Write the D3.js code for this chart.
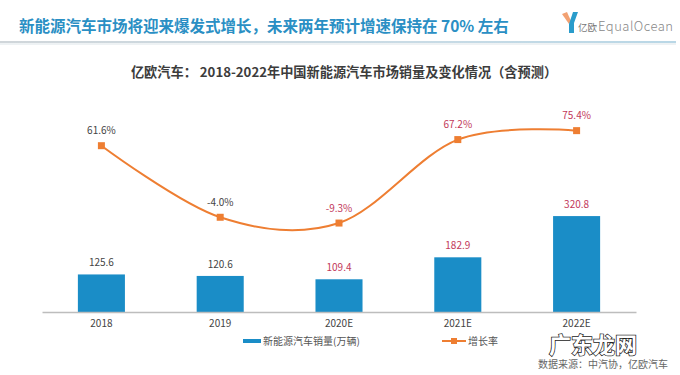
<!DOCTYPE html>
<html>
<head>
<meta charset="utf-8">
<script src="https://cdn.jsdelivr.net/npm/d3@7"></script>
<style>
  body { margin: 0; background: #fff; }
  svg text { font-family: "Noto Sans CJK SC", "Noto Sans", sans-serif; }
</style>
</head>
<body>
<div id="chart"></div>
<script>
'use strict';

// Data
const years = ['2018', '2019', '2020E', '2021E', '2022E'];
const sales = [125.6, 120.6, 109.4, 182.9, 320.8];
const growth = [61.6, -4.0, -9.3, 67.2, 75.4];
const forecast = [false, false, true, true, true];

const headerText = '新能源汽车市场将迎来爆发式增长，未来两年预计增速保持在 70% 左右';
const titleText = '亿欧汽车： 2018-2022年中国新能源汽车市场销量及变化情况（含预测）';
const salesName = '新能源汽车销量(万辆)';
const growthName = '增长率';
const sourceText = '数据来源：中汽协，亿欧汽车';

// Config
const w = 680, h = 375;
const blue = '#1a8dc7';
const orange = '#ee7e32';
const red = '#c2385a';
const dark = '#444';

const svg = d3.select('#chart')
    .append('svg')
    .attr('width', w)
    .attr('height', h);

// Header
const defs = svg.append('defs');
const grad = defs.append('linearGradient').attr('id', 'hdrLine');
grad.append('stop').attr('offset', '0%').attr('stop-color', '#d0d6da');
grad.append('stop').attr('offset', '60%').attr('stop-color', '#c9dbe5');
grad.append('stop').attr('offset', '100%').attr('stop-color', '#b9d7e6');

svg.append('rect')
    .attr('x', 0).attr('y', 41)
    .attr('width', 676).attr('height', 2)
    .attr('fill', 'url(#hdrLine)');
svg.append('rect')
    .attr('x', 0).attr('y', 43)
    .attr('width', 676).attr('height', 2)
    .attr('fill', '#eef2f4');

svg.append('text')
    .attr('x', 19).attr('y', 32)
    .attr('font-size', 15.5)
    .attr('font-weight', 'bold')
    .attr('fill', '#2a8fc4')
    .text(headerText);

// Logo
const logo = svg.append('g').attr('transform', 'translate(562,12)');
logo.append('path')
    .attr('d', 'M0,2 L5,0 L9,9 L7,12 Z')
    .attr('fill', '#f2a172');
logo.append('path')
    .attr('d', 'M16,0 L11,0 L7,12 L7,21 L12,21 L12,11 Z')
    .attr('fill', '#2a9ccb');
svg.append('text')
    .attr('x', 578).attr('y', 31)
    .attr('font-size', 9.5)
    .attr('fill', '#777')
    .text('亿欧');
svg.append('text')
    .attr('x', 598).attr('y', 31)
    .attr('font-size', 13)
    .attr('font-weight', 300)
    .attr('font-family', 'Lato, sans-serif')
    .attr('fill', '#888')
    .attr('textLength', 75)
    .text('EqualOcean');

// Chart title
svg.append('text')
    .attr('x', 344).attr('y', 77)
    .attr('text-anchor', 'middle')
    .attr('font-size', 13.2)
    .attr('font-weight', 'bold')
    .attr('fill', '#3c3c3c')
    .text(titleText);

// Scales
const xScale = d3.scaleBand()
    .domain(years)
    .range([42, 636])
    .paddingInner(0.604)
    .paddingOuter(0.302);

const yBar = d3.scaleLinear()
    .domain([0, 350])
    .range([312, 312 - 0.299 * 350]);

const yLine = d3.scaleLinear()
    .domain([-20, 80])
    .range([212.9 + 20 * 1.091, 212.9 - 80 * 1.091]);

const cx = d => xScale(d) + xScale.bandwidth() / 2;

// Bars
const barG = svg.append('g').attr('class', 'barG');
barG.selectAll('rect')
    .data(years)
    .join('rect')
    .attr('x', d => xScale(d))
    .attr('y', (d, i) => yBar(sales[i]))
    .attr('width', xScale.bandwidth())
    .attr('height', (d, i) => yBar(0) - yBar(sales[i]))
    .attr('fill', blue);

barG.selectAll('text')
    .data(years)
    .join('text')
    .attr('x', d => cx(d))
    .attr('y', (d, i) => yBar(sales[i]) - 8)
    .attr('text-anchor', 'middle')
    .attr('font-size', 10)
    .attr('fill', (d, i) => forecast[i] ? red : dark)
    .text((d, i) => sales[i].toFixed(1));

// X axis
const xAxis = svg.append('g')
    .attr('transform', `translate(0,${yBar(0)})`)
    .call(d3.axisBottom(xScale).tickSize(0).tickPadding(8));
xAxis.select('.domain')
    .attr('stroke', '#bdbdbd')
    .attr('stroke-width', 1.5);
xAxis.selectAll('text')
    .attr('font-size', 10)
    .attr('fill', '#444')
    .attr('font-family', '"Noto Sans CJK SC", sans-serif');

// Growth line
const lineG = svg.append('g').attr('class', 'lineG');
const lineMaker = d3.line()
    .curve(d3.curveCardinal.tension(0))
    .x(d => cx(d))
    .y((d, i) => yLine(growth[i]));

lineG.append('path')
    .datum(years)
    .attr('d', lineMaker)
    .attr('fill', 'none')
    .attr('stroke', orange)
    .attr('stroke-width', 2);

lineG.selectAll('rect')
    .data(years)
    .join('rect')
    .attr('x', d => cx(d) - 3.5)
    .attr('y', (d, i) => yLine(growth[i]) - 3.5)
    .attr('width', 7)
    .attr('height', 7)
    .attr('fill', orange);

lineG.selectAll('text')
    .data(years)
    .join('text')
    .attr('x', d => cx(d))
    .attr('y', (d, i) => yLine(growth[i]) - 11.5)
    .attr('text-anchor', 'middle')
    .attr('font-size', 10)
    .attr('fill', (d, i) => forecast[i] ? red : dark)
    .text((d, i) => growth[i].toFixed(1) + '%');

// Legend
const legG = svg.append('g').attr('class', 'legG');
legG.append('rect')
    .attr('x', 243).attr('y', 339)
    .attr('width', 18).attr('height', 4)
    .attr('fill', blue);
legG.append('text')
    .attr('x', 263).attr('y', 345)
    .attr('font-size', 10)
    .attr('fill', '#555')
    .text(salesName);
legG.append('line')
    .attr('x1', 442).attr('x2', 466)
    .attr('y1', 341).attr('y2', 341)
    .attr('stroke', orange)
    .attr('stroke-width', 2);
legG.append('rect')
    .attr('x', 451).attr('y', 338)
    .attr('width', 6).attr('height', 6)
    .attr('fill', orange);
legG.append('text')
    .attr('x', 468).attr('y', 345)
    .attr('font-size', 10)
    .attr('fill', '#555')
    .text(growthName);

// Watermark
svg.append('text')
    .attr('x', 593).attr('y', 353)
    .attr('text-anchor', 'middle')
    .attr('font-size', 22)
    .attr('font-weight', 'bold')
    .attr('fill', '#fff')
    .attr('stroke', '#222')
    .attr('stroke-width', 1.5)
    .attr('paint-order', 'stroke')
    .text('广东龙网');

// Source
svg.append('text')
    .attr('x', 668).attr('y', 368)
    .attr('text-anchor', 'end')
    .attr('font-size', 10)
    .attr('fill', '#666')
    .text(sourceText);
</script>
</body>
</html>
